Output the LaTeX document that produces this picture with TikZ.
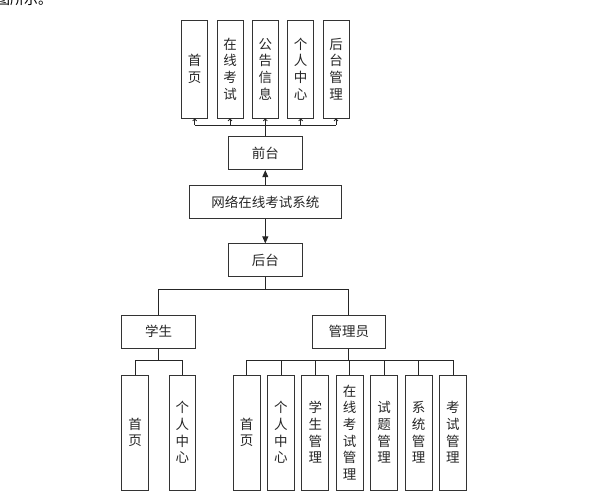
\documentclass[tikz,border=0pt]{standalone}
\usepackage{fontspec}
\setmainfont{Noto Sans CJK SC}
\usetikzlibrary{arrows.meta}
\begin{document}
\begin{tikzpicture}[x=1pt,y=-1pt,
  every node/.style={font=\fontsize{13.5}{16.7}\selectfont, text=black!85},
  box/.style={draw=black!80, line width=0.8pt, rectangle, inner sep=0pt, align=center},
  topbox/.style={box, minimum width=26pt, minimum height=98pt},
  leafbox/.style={box, minimum width=27pt, minimum height=115pt},
  hbox/.style={box, minimum height=33pt},
  conn/.style={draw=black!85, line width=0.8pt},
  bigarrow/.style={conn, -{Triangle[length=7pt,width=6pt]}},
  tinyarrow/.style={conn, -{Straight Barb[length=2pt,width=4pt]}}
]
\useasboundingbox (0,0) rectangle (597,500);
% partial caption text at top-left
\node[anchor=base west, inner sep=0pt, text=black, font=\fontsize{14}{16}\selectfont] (cap) at (-4,4.5) {图所示。};
% top row
\node[topbox] (t1) at (194.7,69) {首\\页};
\node[topbox] (t2) at (230,69) {在\\线\\考\\试};
\node[topbox] (t3) at (265.3,69) {公\\告\\信\\息};
\node[topbox] (t4) at (300.7,69) {个\\人\\中\\心};
\node[topbox] (t5) at (336,69) {后\\台\\管\\理};
\node[hbox, minimum width=74pt] (qt) at (265.3,153.3) {前台};
\node[hbox, minimum width=152.7pt] (sys) at (265.3,202) {网络在线考试系统};
\node[hbox, minimum width=74pt] (ht) at (265.3,260.3) {后台};
\node[hbox, minimum width=74pt] (stu) at (158.7,331.7) {学生};
\node[hbox, minimum width=73.7pt] (adm) at (348.8,331.7) {管理员};
% student leaves
\node[leafbox, minimum width=26.7pt] (s1) at (135,432.5) {首\\页};
\node[leafbox, minimum width=26.7pt] (s2) at (182.3,432.5) {个\\人\\中\\心};
% admin leaves
\node[leafbox] (a1) at (246.5,432.5) {首\\页};
\node[leafbox] (a2) at (280.9,432.5) {个\\人\\中\\心};
\node[leafbox] (a3) at (315.3,432.5) {学\\生\\管\\理};
\node[leafbox] (a4) at (349.7,432.5) {在\\线\\考\\试\\管\\理};
\node[leafbox] (a5) at (384.1,432.5) {试\\题\\管\\理};
\node[leafbox] (a6) at (418.5,432.5) {系\\统\\管\\理};
\node[leafbox] (a7) at (452.9,432.5) {考\\试\\管\\理};
% coordinates for buses
\coordinate (tbus) at (265.3,125);
\coordinate (hbus) at (265.3,289);
\coordinate (sbus) at (158.7,360);
\coordinate (abus) at (348.8,360);
% top connectors
\draw[conn] (qt.north) -- (tbus);
\draw[conn] (t1 |- tbus) -- (t5 |- tbus);
\foreach \i in {1,...,5} { \draw[tinyarrow] (t\i |- tbus) -- (t\i.south); }
% main arrows
\draw[bigarrow] (sys.north) -- (qt.south);
\draw[bigarrow] (sys.south) -- (ht.north);
% 后台 tree
\draw[conn] (ht.south) -- (hbus);
\draw[conn] (stu |- hbus) -- (adm |- hbus);
\draw[conn] (stu |- hbus) -- (stu.north);
\draw[conn] (adm |- hbus) -- (adm.north);
% student tree
\draw[conn] (stu.south) -- (sbus);
\draw[conn] (s1 |- sbus) -- (s2 |- sbus);
\foreach \i in {1,2} { \draw[conn] (s\i |- sbus) -- (s\i.north); }
% admin tree
\draw[conn] (adm.south) -- (abus);
\draw[conn] (a1 |- abus) -- (a7 |- abus);
\foreach \i in {1,...,7} { \draw[conn] (a\i |- abus) -- (a\i.north); }
\end{tikzpicture}
\end{document}
